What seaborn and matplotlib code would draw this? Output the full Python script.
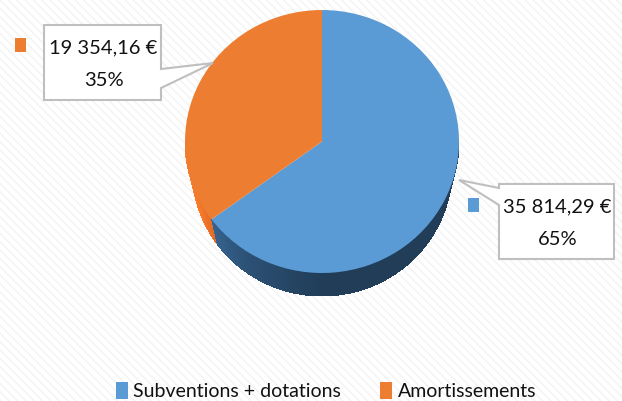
import numpy as np
import matplotlib
matplotlib.use("Agg")
import matplotlib.pyplot as plt
from matplotlib.patches import Polygon, Patch, Rectangle
import seaborn as sns

# Data
categories = ["Subventions + dotations", "Amortissements"]
values = [35814.29, 19354.16]
colors = ["#5B9BD5", "#ED7D31"]
side_colors = ["#213D58", "#8A4317"]

sns.set_style("white")
plt.rcParams['font.family'] = ['Lato', 'DejaVu Sans']

W, H = 622, 401
fig = plt.figure(figsize=(W / 100, H / 100), dpi=100)
fig.patch.set_facecolor("white")

# faint diagonal texture in the background
bg = fig.add_axes([0, 0, 1, 1], zorder=0)
bg.add_patch(Rectangle((0, 0), 1, 1, facecolor="white", edgecolor="#f3f3f3",
                       hatch="\\\\\\\\", linewidth=0))
bg.set_xlim(0, 1)
bg.set_ylim(0, 1)
bg.axis("off")

# pie area in pixels: top ellipse 185..459 x 10..273, depth 23 px
px_l, px_r, px_t, px_b, depth = 185, 459, 10, 273, 23
ry_px = (px_b - px_t) / 2
d = depth / ry_px
ax = fig.add_axes([px_l / W, (H - px_b - depth) / H, (px_r - px_l) / W, (px_b - px_t + depth) / H], zorder=1)

total = sum(values)
frac = np.array(values) / total

# bottom rim: a bit narrower (perspective), lowest point 1 + d below centre
rx_b, ry_b = 0.95, 0.97
off = 1 + d - ry_b

def side_color(i, a):
    base = np.array(matplotlib.colors.to_rgb(side_colors[i]))
    shade = np.interp(a, [180, 205, 235, 270, 360], [1.9, 1.8, 1.35, 1.0, 1.0])
    return np.clip(base * shade, 0, 1)

step = 0.5
for a in np.arange(180, 360, step):
    am = a + step / 2
    rel = (90 - am) % 360
    i = 0 if rel < 360 * frac[0] else 1
    a1, a2 = np.radians(a), np.radians(a + step * 1.6)
    poly = [(np.cos(a1), np.sin(a1)), (np.cos(a2), np.sin(a2)),
            (rx_b * np.cos(a2), ry_b * np.sin(a2) - off), (rx_b * np.cos(a1), ry_b * np.sin(a1) - off)]
    ax.add_patch(Polygon(poly, closed=True, facecolor=side_color(i, am), edgecolor="none", antialiased=False))

ax.pie(values, colors=colors, startangle=90, counterclock=False, radius=1,
       wedgeprops=dict(linewidth=0))
ax.set_aspect("auto")
ax.set_xlim(-1, 1)
ax.set_ylim(-1 - d, 1)
ax.axis("off")

# callouts in pixel coordinates
ov = fig.add_axes([0, 0, 1, 1], zorder=3)
ov.set_xlim(0, W)
ov.set_ylim(H, 0)
ov.axis("off")
ov.patch.set_alpha(0)

def fmt(v):
    s = f"{v:,.2f}".replace(",", " ").replace(".", ",")
    return s + " €"

callouts = [
    dict(box=(499, 184, 614, 259), side="left", base=(188, 205), tip=(459, 180), key=(468, 198)),
    dict(box=(44, 25, 161, 100), side="right", base=(69, 88), tip=(213, 63), key=(15, 38)),
]
for i, c in enumerate(callouts):
    x0, y0, x1, y1 = c["box"]
    b0, b1 = c["base"]
    tx, ty = c["tip"]
    if c["side"] == "right":
        pts = [(x0, y0), (x1, y0), (x1, b0), (tx, ty), (x1, b1), (x1, y1), (x0, y1)]
    else:
        pts = [(x0, y0), (x1, y0), (x1, y1), (x0, y1), (x0, b1), (tx, ty), (x0, b0)]
    ov.add_patch(Polygon(pts, closed=True, facecolor="white", edgecolor="#BFBFBF", linewidth=1.5))
    pct = round(100 * values[i] / total)
    cx = (x0 + x1) / 2 + 1
    ov.text(cx, y0 + 0.30 * (y1 - y0), fmt(values[i]), ha="center", va="center", fontsize=14.5, color="#111111")
    ov.text(cx, y0 + 0.74 * (y1 - y0), f"{pct}%", ha="center", va="center", fontsize=14.5, color="#111111")
    kx, ky = c["key"]
    ov.add_patch(Rectangle((kx, ky), 11, 14, facecolor=colors[i], edgecolor="none"))

handles = [Patch(facecolor=colors[i], edgecolor="none") for i in range(len(categories))]
fig.legend(handles, categories, loc="center", bbox_to_anchor=(326 / W, 1 - 391 / H), ncol=2,
           frameon=False, fontsize=14, handlelength=0.6, handleheight=1.0, handletextpad=0.3,
           columnspacing=2.0, labelcolor="#111111")

fig.savefig("out.png", dpi=100)
